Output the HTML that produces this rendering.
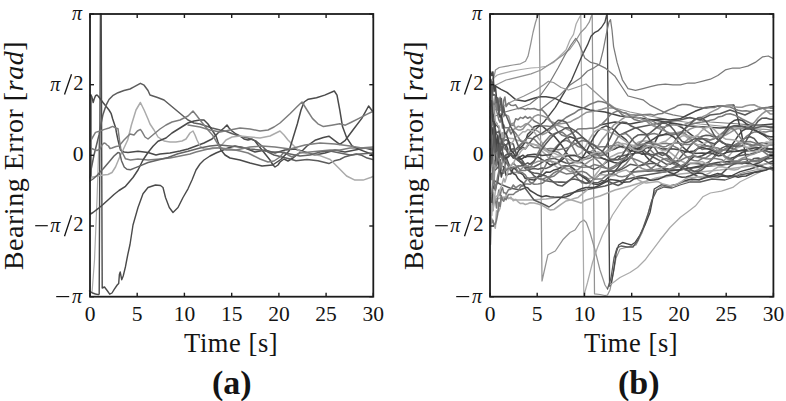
<!DOCTYPE html>
<html><head><meta charset="utf-8"><style>html,body{margin:0;padding:0;background:#fff;}svg{display:block;}</style></head>
<body><svg width="786" height="401" viewBox="0 0 786 401">
<rect width="786" height="401" fill="#fff"/>
<g fill="none" stroke-linejoin="round" stroke-linecap="round">
<polyline points="92.0,293.0 94.5,260.0 97.0,200.0 99.0,140.0" stroke="#ababab" stroke-width="1.2"/>
<polyline points="89.5,291.0 92.5,293.0 95.5,294.0 98.5,294.6 99.2,294.0 100.4,14.0" stroke="#4a4a4a" stroke-width="1.4"/>
<polyline points="101.2,14.0 102.2,288.0 104.5,287.0 107.5,291.0 109.7,294.2 112.0,293.0 114.2,289.4 117.2,285.0 118.7,283.4 119.4,274.4 120.2,272.0 121.7,279.7 123.2,276.0 125.4,267.0 127.7,255.0 130.0,244.5 133.0,225.0 138.0,207.5 143.0,193.8 148.0,187.5 155.5,185.0 160.5,185.5 163.0,187.5 165.5,197.5 169.3,207.5 173.0,212.5 178.0,207.5 183.0,197.5 188.0,188.8 192.0,180.0 196.0,170.0 200.0,164.0 204.0,160.0 210.0,156.0 216.0,153.0 222.0,150.5 228.0,148.0 235.0,146.0 245.0,148.0 255.0,152.0 265.0,150.0 275.0,153.0 285.0,150.0 295.0,149.0 305.0,152.0 315.0,155.0 325.0,153.0 335.0,150.0 345.0,152.0 355.0,150.0 365.0,148.0 373.0,150.0" stroke="#4a4a4a" stroke-width="1.4"/>
<polyline points="91.3,95.0 91.3,178.0" stroke="#7d7d7d" stroke-width="1.3"/>
<polyline points="90.5,95.0 91.7,96.5 92.5,99.5 93.2,102.5 94.0,99.5 95.5,95.7 97.0,95.0 98.5,96.5 100.7,99.5 103.0,102.5 106.0,106.2 109.0,110.0 111.2,113.7 112.7,119.0 114.2,123.4 115.7,128.0 116.4,132.4 118.0,140.0 120.5,150.0 124.0,152.0 128.0,152.5 138.0,151.3 148.0,152.5 156.0,155.0 160.0,154.0 170.0,153.0 180.0,151.0 188.0,149.0 196.0,146.0 204.0,143.0 212.0,139.0 218.0,133.0 224.0,128.0 227.0,125.0 229.0,128.0 232.0,131.0 236.0,134.0 240.0,136.0 244.0,139.0 248.0,140.0 252.0,139.0 255.0,141.0 258.0,145.0 262.0,150.0 266.0,155.0 270.0,160.0 273.0,165.0 275.0,167.0 278.0,165.0 280.0,162.0 284.0,159.0 288.0,161.0 293.0,158.0 298.0,154.0 303.0,150.0 307.0,146.0 315.0,140.3 323.4,137.5 328.9,136.2 334.4,140.3 339.8,144.4 345.3,140.3 353.5,129.3 361.8,118.4 368.6,106.0 372.7,111.5" stroke="#4a4a4a" stroke-width="1.5"/>
<polyline points="90.3,178.0 91.0,170.0 94.0,155.0 96.5,145.0 99.0,135.0 101.0,124.0 103.0,114.4 106.0,105.4 109.0,99.5 112.7,95.7 118.0,92.7 124.0,90.5 130.0,89.0 134.4,86.7 140.4,83.3 144.1,85.2 148.0,90.5 150.0,95.0 157.5,97.5 164.0,100.0 170.0,105.0 176.0,110.0 182.0,115.0 188.0,120.0 194.0,123.0 200.0,124.0 206.0,126.0 212.0,128.0 220.0,130.0 226.0,131.3 232.5,133.8 240.0,136.3 248.0,138.0 256.0,141.0 262.0,146.0 268.0,152.0 274.0,155.0 282.0,157.0 290.0,159.0 296.0,160.8 307.0,159.5 317.9,160.8 328.9,163.6 334.4,160.8 339.8,159.5 345.3,156.7 350.8,155.3 356.3,154.0 361.8,155.3 367.2,158.1 372.7,159.5" stroke="#5c5c5c" stroke-width="1.5"/>
<polyline points="90.5,177.5 103.0,175.0 108.0,174.5 112.0,172.5 115.5,167.0 120.5,155.0 123.0,150.0 127.7,140.0 131.4,125.0 136.0,110.0 140.4,102.5 144.1,110.0 148.0,119.0 150.0,124.0 154.0,130.0 158.0,137.0 164.0,141.0 170.0,142.0 176.0,142.0 182.0,141.0 186.0,139.0 190.0,133.0 193.0,131.0 195.0,135.0 197.0,140.0 200.0,146.0 204.0,149.0 210.0,149.0 216.0,148.0 220.0,147.0 226.0,140.0 232.0,137.0 240.0,136.0 250.0,137.0 260.0,138.0 270.0,136.0 276.0,133.0 280.0,131.0 284.0,135.0 288.0,140.0 292.0,144.0 296.0,148.0 300.0,151.3 308.3,154.0 319.2,155.4 330.2,159.5 338.4,167.7 346.6,176.0 354.9,180.1 363.1,180.1 371.3,177.3 373.0,176.5" stroke="#ababab" stroke-width="1.5"/>
<polyline points="90.5,141.0 95.5,132.4 100.0,131.0 104.5,129.4 109.0,128.0 112.7,126.4 115.7,128.0 118.0,128.7 118.7,134.0 119.4,140.0 121.0,150.0 125.5,158.8 130.5,160.0 138.0,159.0 148.0,160.0 160.0,159.0 170.0,158.0 180.0,156.0 190.0,154.0 196.0,152.0 204.0,150.0 212.5,148.0 220.0,148.0 230.0,149.0 240.0,151.0 248.0,153.0 254.0,156.0 260.0,159.0 268.0,162.0 274.0,161.0 280.0,157.0 284.0,152.0 288.0,155.0 292.0,157.0 300.0,153.0 310.0,152.0 320.0,151.0 330.0,150.0 340.0,150.0 350.0,148.0 360.0,148.0 373.0,147.0" stroke="#7d7d7d" stroke-width="1.5"/>
<polyline points="90.5,214.0 93.0,212.5 98.0,208.7 103.0,204.5 108.0,200.0 114.0,194.5 119.0,190.5 125.5,186.3 133.0,177.5 138.0,170.0 143.0,160.0 148.0,152.5 153.0,146.3 158.0,141.3 166.0,138.0 172.0,133.0 180.0,128.0 188.0,123.0 194.0,121.0 200.0,120.0 204.0,120.0 208.0,124.0 212.0,130.0 216.0,136.0 218.0,142.0 221.0,150.0 225.0,155.0 230.0,158.0 240.0,160.0 250.0,163.0 262.0,166.0 272.6,165.0 280.8,159.5 289.0,151.0 293.0,138.0 297.3,124.0 301.0,110.0 304.1,102.0 308.3,99.2 316.5,97.8 324.7,95.1 334.3,91.0 337.0,95.1 339.8,110.2 342.5,126.6 346.6,137.6 352.1,145.8 360.4,149.9 371.3,154.0 373.0,156.0" stroke="#4a4a4a" stroke-width="1.5"/>
<polyline points="90.0,181.0 93.0,179.0 97.0,175.5 100.0,172.0 103.0,169.0 109.0,162.0 114.0,156.0 117.9,152.6 119.7,153.0 121.5,160.7 124.2,167.0 126.9,169.3 130.5,169.7 135.0,167.9 139.5,166.1 148.0,162.5 158.0,160.0 168.0,157.5 178.0,153.8 188.0,151.3 200.0,148.0 210.0,146.0 220.0,145.0 230.0,146.0 240.0,147.0 250.0,149.0 260.0,150.0 270.0,152.0 280.0,152.0 290.0,154.0 300.0,156.0 310.0,155.0 320.0,152.0 330.0,151.0 340.0,153.0 350.0,155.0 360.0,154.0 373.0,153.0" stroke="#646464" stroke-width="1.5"/>
<polyline points="90.5,148.0 94.0,149.5 97.0,150.5 100.0,149.0 102.0,145.0 104.0,143.0 105.5,143.5 107.0,145.0 108.5,146.0 110.0,148.5 112.0,148.0 116.0,146.5 119.0,146.0 124.0,140.0 130.0,134.0 134.0,135.0 137.4,131.0 140.4,129.4 142.0,131.6 145.0,137.0 148.0,139.0 154.0,134.0 160.0,129.0 166.0,125.0 172.0,122.0 180.0,120.0 188.0,116.0 193.0,111.0 197.0,116.0 200.0,120.0 204.0,125.0 208.0,130.0 212.5,135.0 216.0,141.0 220.0,147.5 226.0,150.0 236.0,150.0 250.0,147.0 262.0,146.0 275.0,147.0 290.0,149.0 305.0,145.0 320.0,143.0 335.0,144.0 350.0,146.0 362.0,148.0 373.0,148.5" stroke="#7d7d7d" stroke-width="1.5"/>
<polyline points="188.0,125.0 200.0,127.0 210.0,130.0 220.0,132.0 230.0,130.0 240.0,128.0 250.0,129.0 260.0,131.0 268.0,130.0 274.0,127.0 280.0,123.0 290.0,113.8 297.5,106.3 302.0,102.0 307.0,110.0 312.4,118.4 317.9,123.8 323.4,126.6 331.6,125.2 339.8,123.8 345.3,125.2 350.8,122.5 359.0,118.4 367.2,114.2 372.7,111.5" stroke="#7d7d7d" stroke-width="1.5"/>
</g>
<rect x="90.0" y="14.0" width="283.3" height="282.7" fill="none" stroke="#1c1c1c" stroke-width="1.8"/>
<line x1="90.0" y1="296.7" x2="90.0" y2="292.7" stroke="#1c1c1c" stroke-width="1.4"/>
<line x1="90.0" y1="14.0" x2="90.0" y2="18.0" stroke="#1c1c1c" stroke-width="1.4"/>
<text x="90.0" y="321" text-anchor="middle" font-family="'Liberation Serif', serif" font-size="21.5" fill="#141414">0</text>
<line x1="137.2" y1="296.7" x2="137.2" y2="292.7" stroke="#1c1c1c" stroke-width="1.4"/>
<line x1="137.2" y1="14.0" x2="137.2" y2="18.0" stroke="#1c1c1c" stroke-width="1.4"/>
<text x="137.2" y="321" text-anchor="middle" font-family="'Liberation Serif', serif" font-size="21.5" fill="#141414">5</text>
<line x1="184.4" y1="296.7" x2="184.4" y2="292.7" stroke="#1c1c1c" stroke-width="1.4"/>
<line x1="184.4" y1="14.0" x2="184.4" y2="18.0" stroke="#1c1c1c" stroke-width="1.4"/>
<text x="184.4" y="321" text-anchor="middle" font-family="'Liberation Serif', serif" font-size="21.5" fill="#141414">10</text>
<line x1="231.7" y1="296.7" x2="231.7" y2="292.7" stroke="#1c1c1c" stroke-width="1.4"/>
<line x1="231.7" y1="14.0" x2="231.7" y2="18.0" stroke="#1c1c1c" stroke-width="1.4"/>
<text x="231.7" y="321" text-anchor="middle" font-family="'Liberation Serif', serif" font-size="21.5" fill="#141414">15</text>
<line x1="278.9" y1="296.7" x2="278.9" y2="292.7" stroke="#1c1c1c" stroke-width="1.4"/>
<line x1="278.9" y1="14.0" x2="278.9" y2="18.0" stroke="#1c1c1c" stroke-width="1.4"/>
<text x="278.9" y="321" text-anchor="middle" font-family="'Liberation Serif', serif" font-size="21.5" fill="#141414">20</text>
<line x1="326.1" y1="296.7" x2="326.1" y2="292.7" stroke="#1c1c1c" stroke-width="1.4"/>
<line x1="326.1" y1="14.0" x2="326.1" y2="18.0" stroke="#1c1c1c" stroke-width="1.4"/>
<text x="326.1" y="321" text-anchor="middle" font-family="'Liberation Serif', serif" font-size="21.5" fill="#141414">25</text>
<line x1="373.3" y1="296.7" x2="373.3" y2="292.7" stroke="#1c1c1c" stroke-width="1.4"/>
<line x1="373.3" y1="14.0" x2="373.3" y2="18.0" stroke="#1c1c1c" stroke-width="1.4"/>
<text x="373.3" y="321" text-anchor="middle" font-family="'Liberation Serif', serif" font-size="21.5" fill="#141414">30</text>
<line x1="90.0" y1="14.0" x2="94.0" y2="14.0" stroke="#1c1c1c" stroke-width="1.4"/>
<line x1="373.3" y1="14.0" x2="369.3" y2="14.0" stroke="#1c1c1c" stroke-width="1.4"/>
<line x1="90.0" y1="84.7" x2="94.0" y2="84.7" stroke="#1c1c1c" stroke-width="1.4"/>
<line x1="373.3" y1="84.7" x2="369.3" y2="84.7" stroke="#1c1c1c" stroke-width="1.4"/>
<line x1="90.0" y1="155.3" x2="94.0" y2="155.3" stroke="#1c1c1c" stroke-width="1.4"/>
<line x1="373.3" y1="155.3" x2="369.3" y2="155.3" stroke="#1c1c1c" stroke-width="1.4"/>
<line x1="90.0" y1="226.0" x2="94.0" y2="226.0" stroke="#1c1c1c" stroke-width="1.4"/>
<line x1="373.3" y1="226.0" x2="369.3" y2="226.0" stroke="#1c1c1c" stroke-width="1.4"/>
<line x1="90.0" y1="296.7" x2="94.0" y2="296.7" stroke="#1c1c1c" stroke-width="1.4"/>
<line x1="373.3" y1="296.7" x2="369.3" y2="296.7" stroke="#1c1c1c" stroke-width="1.4"/>
<text x="72.0" y="19.8" font-family="'Liberation Serif', serif" font-size="20" font-style="italic" fill="#141414">π</text>
<text x="50.2" y="90.6" font-family="'Liberation Serif', serif" font-size="20" font-style="italic" fill="#141414">π</text>
<line x1="64.5" y1="94.5" x2="71.5" y2="74.3" stroke="#141414" stroke-width="1.3"/>
<text x="83.4" y="89.8" text-anchor="end" font-family="'Liberation Serif', serif" font-size="20.5" fill="#141414">2</text>
<text x="83.4" y="161.0" text-anchor="end" font-family="'Liberation Serif', serif" font-size="21.5" fill="#141414">0</text>
<line x1="35.2" y1="225.7" x2="47.8" y2="225.7" stroke="#141414" stroke-width="1.2"/>
<text x="50.2" y="231.8" font-family="'Liberation Serif', serif" font-size="20" font-style="italic" fill="#141414">π</text>
<line x1="64.5" y1="236.2" x2="71.5" y2="215.2" stroke="#141414" stroke-width="1.3"/>
<text x="83.4" y="230.8" text-anchor="end" font-family="'Liberation Serif', serif" font-size="20.5" fill="#141414">2</text>
<line x1="56.2" y1="296.6" x2="69.2" y2="296.6" stroke="#141414" stroke-width="1.2"/>
<text x="71.9" y="302.8" font-family="'Liberation Serif', serif" font-size="20" font-style="italic" fill="#141414">π</text>
<text x="184.1" y="352.4" textLength="93.5" lengthAdjust="spacing" font-family="'Liberation Serif', serif" font-size="26.5" fill="#141414">Time [s]</text>
<text x="211.9" y="394.2" font-family="'Liberation Serif', serif" font-size="34" font-weight="bold" fill="#141414">(a)</text>
<text transform="translate(22.9,270.1) rotate(-90)" textLength="228.6" lengthAdjust="spacing" font-family="'Liberation Serif', serif" font-size="28" fill="#141414">Bearing Error [<tspan font-style="italic">rad</tspan>]</text>
<g fill="none" stroke-linejoin="round" stroke-linecap="round">
<polyline points="490.5,92.0 495.5,70.0 499.2,67.5 505.5,66.3 513.0,65.0 520.5,63.8 525.5,61.3 528.0,56.3 530.5,45.0 533.0,32.5 535.5,22.5 538.0,15.0 539.3,14.2 542.0,281.0 547.9,254.8 555.3,251.0 562.8,239.8 570.0,232.5 575.0,230.0 580.0,222.5 583.8,220.0 586.3,222.5 590.0,232.5 595.0,250.0 600.0,270.0 605.0,285.0 607.5,289.0" stroke="#939393" stroke-width="1.25"/>
<polyline points="491.0,80.0 497.3,75.0 501.0,73.8 511.0,71.3 521.0,69.5 531.0,68.0 538.5,67.5 546.0,66.3 553.5,62.5 561.0,55.0 566.0,50.0 570.0,40.0 573.5,34.4 576.1,24.0 578.7,18.7 580.8,15.0 583.8,296.0 587.5,282.5 592.5,262.5 597.5,247.5 602.5,235.0 607.5,225.0 612.5,215.0 617.5,207.5 622.5,200.0 630.0,192.0 637.6,186.0 645.0,182.0 655.0,178.0 665.0,176.0" stroke="#aaaaaa" stroke-width="1.25"/>
<polyline points="491.0,92.0 496.0,85.0 501.0,82.5 506.0,80.0 511.0,78.8 521.0,76.3 531.0,73.8 541.0,70.0 548.5,65.0 556.0,60.0 563.0,55.0 570.0,49.0 575.0,42.0 580.5,32.7 585.7,27.5 589.2,22.2 591.0,17.0 592.2,14.5 594.5,293.8 600.0,294.5 605.0,295.5 607.5,295.0 610.0,290.0 613.0,275.0 616.0,258.0 620.0,249.0 628.0,247.0 636.0,245.0 642.0,233.0 647.0,218.0 651.0,203.0 655.0,191.0 662.0,186.0 672.0,186.0 684.0,182.0 695.0,180.0 706.0,178.0 718.0,175.0 730.0,178.0 742.0,173.0 755.0,170.0 773.0,168.0" stroke="#939393" stroke-width="1.25"/>
<polyline points="490.5,175.0 500.0,165.0 510.0,155.0 520.0,145.0 530.0,135.0 537.0,128.0 544.0,122.0 555.3,107.3 566.6,88.6 571.7,79.8 577.0,67.6 582.2,55.4 587.5,44.9 591.0,36.2 594.4,32.7 597.9,30.9 601.4,27.5 604.9,22.2 606.6,15.2 607.2,14.2 609.6,286.0 611.2,284.0 613.7,270.0 616.2,252.5 618.7,245.0 622.5,242.5 627.5,243.8 631.3,245.0 635.0,242.5 640.0,235.0 645.0,225.0 650.0,212.5 652.5,200.0 654.2,189.0 661.7,184.5 669.2,186.0 676.6,184.5 684.1,181.0 691.6,179.0 699.1,180.0 706.6,177.0 717.8,173.4 729.0,177.0 740.2,171.6 750.0,169.0 760.0,166.0 773.0,161.0" stroke="#454545" stroke-width="1.35"/>
<polyline points="540.0,110.0 550.0,102.0 560.0,95.0 570.0,85.0 580.5,78.0 587.5,71.0 594.4,67.6 599.7,64.1 603.2,50.1 606.6,32.7 609.0,22.0 610.5,19.6 612.0,30.0 613.6,46.6 617.1,62.4 622.4,79.8 628.0,88.6 635.5,90.4 643.0,88.6 650.4,86.7 657.9,84.8 665.4,84.1 672.9,84.8 680.4,84.8 687.9,83.0 695.3,83.0 702.8,81.1 710.3,79.2 717.8,75.5 725.3,69.9 732.8,68.0 740.2,68.0 747.7,66.1 755.2,62.4 762.7,56.8 768.3,56.0 773.4,58.6" stroke="#7a7a7a" stroke-width="1.25"/>
<polyline points="490.5,80.0 493.5,85.0 501.0,89.3 507.0,92.3 516.0,99.8 525.0,101.3 534.0,98.3 540.0,96.8 546.0,96.8 555.0,98.3 564.0,102.8 575.0,106.0 590.0,110.0 605.0,112.0 620.0,116.0 640.0,118.0 660.0,121.0 690.0,126.0 720.0,128.0 750.0,126.0 773.0,124.0" stroke="#454545" stroke-width="1.5"/>
<polyline points="490.5,118.0 505.0,112.0 520.0,108.0 530.0,104.0 540.0,96.0 550.0,82.0 558.0,68.0 565.0,55.0 571.0,45.0 575.8,38.4 578.8,43.0 584.8,58.0 590.8,62.4 596.8,63.9 605.8,68.4 614.7,75.9 620.0,84.0 628.0,96.0 643.0,99.8 650.4,105.4 657.9,109.1 665.4,112.9 672.9,114.8 690.0,118.0 710.0,122.0 740.0,124.0 773.0,127.0" stroke="#7a7a7a" stroke-width="1.25"/>
<polyline points="490.5,112.0 505.0,105.0 515.0,100.0 523.5,96.3 536.0,90.0 543.5,85.0 548.5,81.3 553.5,82.5 561.0,87.5 568.5,90.0 576.0,87.5 586.0,84.0 595.0,92.0 605.0,101.0 615.0,108.0 630.0,112.0 650.0,116.0 670.0,120.0 700.0,124.0 730.0,127.0 773.0,130.0" stroke="#939393" stroke-width="1.25"/>
<polyline points="610.0,285.0 620.0,277.5 630.0,272.5 637.5,267.5 645.0,260.0 652.5,250.0 660.0,240.0 670.0,227.5 680.4,217.3 687.9,211.7 695.3,206.1 702.8,196.8 710.3,193.0 721.5,191.2 732.8,187.4 740.2,181.8 751.5,176.2 762.7,170.6 773.4,165.0" stroke="#aaaaaa" stroke-width="1.25"/>
<polyline points="607.5,289.0 611.0,278.0 614.0,258.0 617.0,248.0 621.0,246.0 627.0,247.0 633.0,247.0 638.0,240.0 643.0,228.0 648.0,214.0 652.0,200.0 657.0,190.0 664.0,187.0 672.0,188.0 680.0,185.0 690.0,182.0 700.0,182.0 712.0,179.0 725.0,180.0 740.0,175.0 755.0,172.0 773.0,168.0" stroke="#5a5a5a" stroke-width="1.3"/>
<polyline points="490.5,195.0 497.0,199.0 504.0,197.0 516.0,200.0 531.0,200.0 546.0,199.0 561.0,197.0 575.0,201.0 581.0,203.0 586.0,200.0 600.0,196.0 615.0,190.0 630.0,186.0 650.0,180.0 680.0,174.0 720.0,170.0 773.0,163.0" stroke="#aaaaaa" stroke-width="1.5"/>
<polyline points="493.0,180.0 500.0,184.0 510.0,188.0 520.0,190.0 525.0,188.0 534.0,200.0 543.0,204.0 549.0,207.0 555.0,203.0 564.0,195.0 575.0,192.0 590.0,189.0 605.0,186.0 620.0,181.0 640.0,176.0 670.0,171.0 700.0,167.0 740.0,163.0 773.0,158.0" stroke="#5a5a5a" stroke-width="1.5"/>
<polyline points="600.0,125.0 615.0,122.0 630.0,124.0 645.0,121.0 660.0,119.0 670.0,120.0 680.0,118.8 687.5,115.0 695.0,111.3 705.0,107.5 717.5,106.3 727.5,105.5 733.8,105.0 736.3,112.5 738.8,122.5 741.3,132.5 743.8,145.0 745.5,155.0 747.5,161.3 752.5,165.0 760.0,162.5 767.5,157.5 773.4,155.0" stroke="#454545" stroke-width="1.5"/>
<polyline points="620.0,135.0 635.0,128.0 650.0,125.0 665.0,122.0 680.0,120.0 690.0,117.5 700.0,120.0 710.0,115.0 720.0,113.8 730.0,110.0 737.5,112.5 745.0,115.0 752.5,111.3 760.0,108.8 767.5,107.5 773.4,106.3" stroke="#5a5a5a" stroke-width="1.5"/>
<polyline points="630.0,172.0 650.0,171.0 665.0,170.0 680.0,170.0 692.5,167.5 705.0,165.0 717.5,162.5 730.0,161.3 742.5,162.5 755.0,165.0 765.0,167.5 773.4,170.0" stroke="#454545" stroke-width="1.5"/>
<polyline points="490.5,84.6 491.7,107.9 492.9,102.9 494.1,119.1 495.3,126.4 496.5,123.0 497.7,126.8 498.9,127.4 500.1,133.3 501.3,141.5 502.5,141.2 503.7,145.0 504.9,145.4 506.1,144.8 508.5,151.3 510.9,154.9 513.3,158.1 515.7,157.1 518.1,151.5 520.5,147.8 522.9,145.3 525.3,141.7 527.7,134.3 530.1,132.0 534.1,126.8 538.1,125.4 542.1,126.0 546.1,129.4 550.1,133.1 554.1,136.0 558.1,140.8 562.1,145.9 566.1,152.4 570.1,157.5 574.1,160.9 578.1,161.1 582.1,157.9 586.1,151.9 590.1,144.0 594.1,136.8 598.1,130.9 602.1,127.6 606.1,125.9 610.1,127.9 614.1,129.9 618.1,133.9 622.1,136.7 626.1,139.9 630.1,145.1 634.1,148.5 638.1,152.0 642.1,154.3 646.1,153.9 650.1,149.3 654.1,143.9 658.1,136.2 662.1,129.4 666.1,126.2 670.1,123.6 674.1,124.3 678.1,125.5 682.1,127.7 686.1,130.7 690.1,133.8 694.1,136.8 698.1,140.4 702.1,142.7 706.1,145.8 710.1,146.4 714.1,145.3 718.1,140.9 722.1,135.0 726.1,129.0 730.1,123.3 734.1,120.6 738.1,119.5 742.1,120.4 746.1,123.7 750.1,125.8 754.1,129.0 758.1,132.0 762.1,134.2 766.1,136.9 770.1,139.5 773.4,139.5" stroke="#454545" stroke-width="1.55"/>
<polyline points="490.5,116.4 491.7,134.0 492.9,140.2 494.1,140.3 495.3,148.0 496.5,147.4 497.7,154.8 498.9,148.4 500.1,151.3 501.3,153.6 502.5,160.7 503.7,161.0 504.9,159.1 506.1,161.9 508.5,166.2 510.9,168.0 513.3,167.2 515.7,168.2 518.1,165.9 520.5,166.1 522.9,165.5 525.3,166.6 527.7,167.2 530.1,166.9 534.1,166.8 538.1,164.8 542.1,162.3 546.1,160.1 550.1,158.9 554.1,158.3 558.1,159.9 562.1,161.5 566.1,163.0 570.1,163.4 574.1,162.6 578.1,162.5 582.1,162.7 586.1,166.0 590.1,167.6 594.1,169.4 598.1,167.4 602.1,165.3 606.1,162.4 610.1,160.0 614.1,159.7 618.1,159.7 622.1,158.7 626.1,157.2 630.1,151.9 634.1,149.4 638.1,148.3 642.1,149.1 646.1,152.2 650.1,154.3 654.1,154.9 658.1,153.5 662.1,152.8 666.1,154.8 670.1,159.5 674.1,163.7 678.1,165.8 682.1,166.4 686.1,165.9 690.1,163.6 694.1,163.4 698.1,163.8 702.1,164.4 706.1,163.4 710.1,161.1 714.1,156.5 718.1,150.7 722.1,147.9 726.1,146.1 730.1,146.1 734.1,145.8 738.1,143.2 742.1,139.7 746.1,137.9 750.1,136.8 754.1,138.5 758.1,143.5 762.1,148.1 766.1,149.4 770.1,148.8 773.4,148.8" stroke="#5a5a5a" stroke-width="1.55"/>
<polyline points="490.5,110.6 491.7,115.5 492.9,125.7 494.1,127.4 495.3,129.2 496.5,134.0 497.7,135.4 498.9,140.2 500.1,144.2 501.3,142.6 502.5,147.0 503.7,147.0 504.9,149.2 506.1,149.7 508.5,153.3 510.9,151.1 513.3,151.1 515.7,149.8 518.1,149.0 520.5,145.1 522.9,142.7 525.3,139.6 527.7,138.2 530.1,138.2 534.1,138.9 538.1,143.3 542.1,146.6 546.1,149.3 550.1,151.1 554.1,150.9 558.1,152.2 562.1,155.4 566.1,159.0 570.1,166.1 574.1,173.9 578.1,179.0 582.1,182.9 586.1,183.1 590.1,182.6 594.1,179.0 598.1,175.7 602.1,172.6 606.1,171.4 610.1,169.8 614.1,167.7 618.1,165.2 622.1,162.2 626.1,157.1 630.1,151.5 634.1,147.3 638.1,144.9 642.1,144.2 646.1,145.5 650.1,149.8 654.1,153.6 658.1,156.1 662.1,157.9 666.1,160.3 670.1,162.3 674.1,164.2 678.1,166.0 682.1,168.6 686.1,170.2 690.1,170.3 694.1,171.4 698.1,169.9 702.1,167.3 706.1,164.4 710.1,161.2 714.1,157.2 718.1,153.8 722.1,150.9 726.1,148.1 730.1,145.8 734.1,144.9 738.1,143.1 742.1,143.0 746.1,144.0 750.1,144.3 754.1,146.3 758.1,148.5 762.1,150.7 766.1,153.5 770.1,156.3 773.4,156.3" stroke="#7a7a7a" stroke-width="1.55"/>
<polyline points="490.5,156.6 491.7,153.0 492.9,153.7 494.1,129.0 495.3,138.8 496.5,149.2 497.7,148.1 498.9,143.2 500.1,144.9 501.3,146.5 502.5,136.8 503.7,140.6 504.9,140.4 506.1,139.5 508.5,141.6 510.9,143.4 513.3,144.0 515.7,152.6 518.1,155.7 520.5,158.5 522.9,161.2 525.3,165.5 527.7,166.6 530.1,169.2 534.1,168.5 538.1,169.3 542.1,167.9 546.1,168.4 550.1,166.8 554.1,164.2 558.1,162.2 562.1,157.4 566.1,152.0 570.1,145.8 574.1,140.6 578.1,138.5 582.1,137.4 586.1,140.5 590.1,145.0 594.1,149.7 598.1,155.2 602.1,158.2 606.1,159.6 610.1,160.0 614.1,159.1 618.1,156.3 622.1,156.0 626.1,154.9 630.1,154.0 634.1,153.4 638.1,152.7 642.1,153.3 646.1,153.6 650.1,155.4 654.1,157.5 658.1,159.7 662.1,161.6 666.1,164.2 670.1,164.3 674.1,162.4 678.1,160.3 682.1,155.2 686.1,151.1 690.1,146.0 694.1,141.9 698.1,138.4 702.1,136.3 706.1,135.2 710.1,135.5 714.1,137.0 718.1,139.7 722.1,141.8 726.1,144.9 730.1,148.0 734.1,149.3 738.1,150.7 742.1,150.7 746.1,149.8 750.1,147.1 754.1,145.4 758.1,143.4 762.1,143.1 766.1,143.6 770.1,144.9 773.4,144.9" stroke="#5a5a5a" stroke-width="1.55"/>
<polyline points="490.5,197.0 491.7,215.5 492.9,159.8 494.1,181.1 495.3,158.0 496.5,167.7 497.7,143.8 498.9,142.0 500.1,139.0 501.3,142.5 502.5,132.9 503.7,132.5 504.9,134.4 506.1,134.4 508.5,129.9 510.9,129.9 513.3,129.6 515.7,128.2 518.1,126.3 520.5,127.1 522.9,125.9 525.3,124.1 527.7,123.6 530.1,125.7 534.1,129.3 538.1,131.4 542.1,134.7 546.1,133.0 550.1,130.0 554.1,126.6 558.1,124.1 562.1,123.4 566.1,122.9 570.1,122.1 574.1,119.7 578.1,117.8 582.1,115.1 586.1,112.6 590.1,111.8 594.1,111.3 598.1,110.3 602.1,109.2 606.1,107.9 610.1,108.1 614.1,107.7 618.1,109.9 622.1,112.1 626.1,113.7 630.1,114.4 634.1,114.7 638.1,115.2 642.1,115.3 646.1,117.8 650.1,122.2 654.1,125.1 658.1,128.1 662.1,126.9 666.1,126.6 670.1,125.3 674.1,124.8 678.1,125.5 682.1,125.7 686.1,123.8 690.1,122.3 694.1,120.8 698.1,117.7 702.1,116.9 706.1,115.3 710.1,112.6 714.1,110.6 718.1,108.7 722.1,105.9 726.1,105.6 730.1,105.0 734.1,106.8 738.1,107.3 742.1,107.3 746.1,105.8 750.1,105.0 754.1,104.8 758.1,106.7 762.1,107.9 766.1,110.4 770.1,113.9 773.4,113.9" stroke="#939393" stroke-width="1.55"/>
<polyline points="490.5,94.1 491.7,93.3 492.9,101.3 494.1,105.7 495.3,121.0 496.5,123.8 497.7,125.3 498.9,126.0 500.1,131.2 501.3,133.3 502.5,137.3 503.7,132.6 504.9,136.3 506.1,137.3 508.5,138.0 510.9,138.4 513.3,138.6 515.7,139.6 518.1,140.8 520.5,139.9 522.9,141.7 525.3,141.5 527.7,142.7 530.1,143.6 534.1,144.4 538.1,146.6 542.1,151.2 546.1,154.9 550.1,160.3 554.1,165.1 558.1,167.8 562.1,168.6 566.1,168.2 570.1,168.7 574.1,169.7 578.1,172.3 582.1,175.4 586.1,178.3 590.1,178.6 594.1,176.5 598.1,171.6 602.1,165.9 606.1,161.1 610.1,157.1 614.1,155.3 618.1,153.3 622.1,152.5 626.1,150.9 630.1,148.6 634.1,145.9 638.1,142.3 642.1,140.9 646.1,140.9 650.1,140.9 654.1,142.2 658.1,145.2 662.1,146.4 666.1,149.6 670.1,152.4 674.1,155.7 678.1,159.2 682.1,161.5 686.1,163.2 690.1,163.1 694.1,162.9 698.1,162.4 702.1,161.5 706.1,163.6 710.1,163.9 714.1,165.6 718.1,164.7 722.1,162.1 726.1,158.5 730.1,154.6 734.1,149.4 738.1,147.4 742.1,145.9 746.1,147.0 750.1,147.5 754.1,146.7 758.1,145.4 762.1,143.8 766.1,142.1 770.1,142.2 773.4,142.2" stroke="#aaaaaa" stroke-width="1.55"/>
<polyline points="490.5,214.8 491.7,207.2 492.9,210.6 494.1,198.3 495.3,198.9 496.5,207.9 497.7,196.7 498.9,190.0 500.1,195.8 501.3,190.0 502.5,187.6 503.7,192.8 504.9,192.8 506.1,194.1 508.5,189.7 510.9,189.2 513.3,185.0 515.7,187.8 518.1,186.1 520.5,184.7 522.9,186.1 525.3,184.0 527.7,183.9 530.1,184.3 534.1,181.6 538.1,176.6 542.1,171.8 546.1,164.4 550.1,156.6 554.1,149.1 558.1,144.7 562.1,141.5 566.1,140.2 570.1,142.2 574.1,143.1 578.1,146.6 582.1,148.1 586.1,150.5 590.1,154.0 594.1,157.5 598.1,161.0 602.1,165.0 606.1,168.1 610.1,170.4 614.1,170.7 618.1,169.9 622.1,167.4 626.1,163.7 630.1,158.6 634.1,153.7 638.1,150.0 642.1,147.3 646.1,146.4 650.1,145.5 654.1,144.8 658.1,144.1 662.1,143.4 666.1,143.2 670.1,143.9 674.1,146.4 678.1,148.5 682.1,152.7 686.1,156.1 690.1,159.3 694.1,160.6 698.1,160.9 702.1,158.6 706.1,157.7 710.1,154.8 714.1,152.4 718.1,151.2 722.1,150.6 726.1,149.0 730.1,148.5 734.1,146.4 738.1,144.8 742.1,143.3 746.1,141.7 750.1,141.4 754.1,142.7 758.1,144.1 762.1,147.4 766.1,150.7 770.1,152.7 773.4,152.7" stroke="#7a7a7a" stroke-width="1.55"/>
<polyline points="490.5,139.4 491.7,145.6 492.9,127.6 494.1,141.8 495.3,157.2 496.5,164.7 497.7,155.4 498.9,168.4 500.1,159.5 501.3,166.9 502.5,166.2 503.7,166.9 504.9,169.4 506.1,175.6 508.5,174.1 510.9,173.9 513.3,168.1 515.7,169.2 518.1,172.7 520.5,173.1 522.9,174.7 525.3,178.5 527.7,177.9 530.1,179.5 534.1,180.1 538.1,176.8 542.1,175.7 546.1,172.1 550.1,172.2 554.1,169.9 558.1,169.1 562.1,166.3 566.1,165.8 570.1,166.0 574.1,169.1 578.1,173.3 582.1,176.5 586.1,179.2 590.1,182.9 594.1,184.0 598.1,184.4 602.1,182.8 606.1,179.6 610.1,175.8 614.1,172.2 618.1,167.4 622.1,162.2 626.1,157.0 630.1,151.8 634.1,148.6 638.1,148.2 642.1,150.8 646.1,156.5 650.1,160.6 654.1,162.9 658.1,165.5 662.1,167.3 666.1,170.3 670.1,172.8 674.1,173.7 678.1,171.6 682.1,167.7 686.1,163.6 690.1,159.7 694.1,156.3 698.1,156.7 702.1,155.7 706.1,153.8 710.1,151.2 714.1,150.5 718.1,151.9 722.1,154.2 726.1,157.2 730.1,158.6 734.1,157.3 738.1,155.0 742.1,152.5 746.1,151.0 750.1,150.8 754.1,150.3 758.1,149.2 762.1,149.2 766.1,147.6 770.1,149.5 773.4,149.5" stroke="#454545" stroke-width="1.55"/>
<polyline points="490.5,79.4 491.7,87.3 492.9,105.0 494.1,111.9 495.3,97.1 496.5,110.9 497.7,114.9 498.9,120.2 500.1,122.4 501.3,115.8 502.5,128.1 503.7,124.8 504.9,127.7 506.1,127.8 508.5,127.8 510.9,134.0 513.3,130.5 515.7,133.2 518.1,136.7 520.5,141.2 522.9,141.6 525.3,142.6 527.7,143.3 530.1,144.8 534.1,147.6 538.1,147.7 542.1,148.3 546.1,148.9 550.1,148.4 554.1,148.7 558.1,149.8 562.1,149.0 566.1,148.3 570.1,146.7 574.1,144.4 578.1,142.5 582.1,140.5 586.1,141.2 590.1,142.4 594.1,145.0 598.1,146.9 602.1,146.8 606.1,146.8 610.1,145.9 614.1,145.5 618.1,144.9 622.1,147.4 626.1,147.5 630.1,147.8 634.1,147.9 638.1,144.7 642.1,141.2 646.1,136.6 650.1,134.2 654.1,133.4 658.1,134.6 662.1,134.8 666.1,134.8 670.1,134.0 674.1,133.1 678.1,132.4 682.1,132.1 686.1,134.4 690.1,138.1 694.1,143.4 698.1,146.2 702.1,149.5 706.1,148.7 710.1,148.4 714.1,147.4 718.1,148.1 722.1,149.7 726.1,149.9 730.1,150.9 734.1,149.3 738.1,145.3 742.1,141.1 746.1,136.7 750.1,133.8 754.1,132.1 758.1,131.9 762.1,131.7 766.1,131.9 770.1,131.1 773.4,131.1" stroke="#7a7a7a" stroke-width="1.55"/>
<polyline points="490.5,200.7 491.7,207.9 492.9,192.5 494.1,201.8 495.3,191.4 496.5,185.0 497.7,181.2 498.9,174.6 500.1,168.3 501.3,169.9 502.5,163.5 503.7,160.1 504.9,158.6 506.1,155.2 508.5,151.9 510.9,143.7 513.3,141.1 515.7,136.4 518.1,136.4 520.5,134.0 522.9,131.8 525.3,131.8 527.7,129.6 530.1,130.2 534.1,131.8 538.1,137.7 542.1,142.8 546.1,149.8 550.1,154.8 554.1,157.4 558.1,156.8 562.1,156.1 566.1,154.7 570.1,154.7 574.1,155.7 578.1,155.2 582.1,152.1 586.1,145.6 590.1,138.2 594.1,132.0 598.1,129.4 602.1,128.8 606.1,130.2 610.1,132.6 614.1,133.7 618.1,136.2 622.1,138.9 626.1,141.6 630.1,144.7 634.1,145.5 638.1,146.4 642.1,144.5 646.1,143.1 650.1,142.6 654.1,142.9 658.1,143.9 662.1,142.3 666.1,140.9 670.1,137.5 674.1,134.2 678.1,132.5 682.1,133.1 686.1,136.6 690.1,140.4 694.1,142.9 698.1,144.9 702.1,143.9 706.1,142.8 710.1,140.1 714.1,138.3 718.1,136.3 722.1,135.3 726.1,133.1 730.1,129.6 734.1,128.0 738.1,127.7 742.1,127.9 746.1,127.9 750.1,128.0 754.1,128.8 758.1,129.4 762.1,131.9 766.1,135.2 770.1,140.6 773.4,140.6" stroke="#aaaaaa" stroke-width="1.55"/>
<polyline points="490.5,148.8 491.7,160.8 492.9,136.0 494.1,150.1 495.3,141.6 496.5,145.7 497.7,152.7 498.9,144.7 500.1,154.0 501.3,141.8 502.5,150.3 503.7,143.5 504.9,144.7 506.1,145.5 508.5,142.0 510.9,150.0 513.3,148.6 515.7,151.9 518.1,159.5 520.5,161.8 522.9,162.6 525.3,167.1 527.7,167.4 530.1,171.3 534.1,176.0 538.1,178.3 542.1,179.6 546.1,180.7 550.1,181.5 554.1,181.9 558.1,182.1 562.1,182.1 566.1,182.3 570.1,179.8 574.1,176.4 578.1,174.3 582.1,175.4 586.1,177.4 590.1,181.3 594.1,182.7 598.1,182.7 602.1,180.4 606.1,181.2 610.1,182.1 614.1,184.0 618.1,185.5 622.1,183.5 626.1,178.8 630.1,173.8 634.1,169.6 638.1,166.9 642.1,164.7 646.1,162.8 650.1,159.9 654.1,155.0 658.1,152.8 662.1,152.4 666.1,154.3 670.1,157.2 674.1,161.6 678.1,164.2 682.1,167.0 686.1,169.6 690.1,172.2 694.1,174.5 698.1,176.7 702.1,177.0 706.1,177.3 710.1,177.1 714.1,175.9 718.1,174.9 722.1,173.4 726.1,169.6 730.1,166.1 734.1,164.1 738.1,163.3 742.1,163.8 746.1,162.3 750.1,161.4 754.1,158.4 758.1,158.0 762.1,159.3 766.1,161.3 770.1,163.6 773.4,163.6" stroke="#5a5a5a" stroke-width="1.55"/>
<polyline points="490.5,174.7 491.7,179.5 492.9,167.6 494.1,160.0 495.3,164.6 496.5,164.4 497.7,149.4 498.9,149.7 500.1,146.0 501.3,145.3 502.5,145.3 503.7,141.5 504.9,133.0 506.1,133.1 508.5,128.8 510.9,124.8 513.3,125.4 515.7,118.8 518.1,119.8 520.5,117.4 522.9,118.4 525.3,116.4 527.7,118.3 530.1,117.0 534.1,121.0 538.1,123.1 542.1,125.8 546.1,126.1 550.1,126.5 554.1,125.4 558.1,123.2 562.1,120.7 566.1,117.5 570.1,115.3 574.1,113.3 578.1,110.3 582.1,108.8 586.1,106.5 590.1,104.2 594.1,102.8 598.1,101.3 602.1,101.8 606.1,103.0 610.1,105.7 614.1,108.3 618.1,110.7 622.1,114.7 626.1,116.6 630.1,116.3 634.1,116.3 638.1,114.9 642.1,114.7 646.1,114.4 650.1,114.3 654.1,115.2 658.1,114.1 662.1,113.5 666.1,111.3 670.1,109.4 674.1,107.8 678.1,105.4 682.1,104.5 686.1,104.5 690.1,105.0 694.1,106.5 698.1,107.2 702.1,107.8 706.1,108.3 710.1,107.5 714.1,107.6 718.1,105.8 722.1,105.9 726.1,106.7 730.1,107.0 734.1,108.9 738.1,110.3 742.1,110.9 746.1,110.8 750.1,111.4 754.1,110.4 758.1,109.3 762.1,108.2 766.1,107.4 770.1,108.1 773.4,108.1" stroke="#7a7a7a" stroke-width="1.55"/>
<polyline points="490.5,212.7 491.7,206.3 492.9,185.5 494.1,188.0 495.3,189.2 496.5,184.2 497.7,181.5 498.9,172.6 500.1,167.4 501.3,177.0 502.5,172.1 503.7,168.8 504.9,168.9 506.1,157.6 508.5,156.7 510.9,153.8 513.3,157.0 515.7,155.1 518.1,157.7 520.5,156.7 522.9,155.2 525.3,157.2 527.7,156.2 530.1,156.4 534.1,156.7 538.1,157.2 542.1,159.6 546.1,161.7 550.1,165.0 554.1,164.3 558.1,162.9 562.1,159.9 566.1,156.1 570.1,155.7 574.1,155.2 578.1,156.5 582.1,157.9 586.1,157.2 590.1,154.9 594.1,153.8 598.1,152.5 602.1,153.3 606.1,152.3 610.1,150.6 614.1,149.2 618.1,147.2 622.1,146.2 626.1,148.1 630.1,150.5 634.1,151.3 638.1,152.0 642.1,150.9 646.1,147.9 650.1,146.8 654.1,146.7 658.1,147.7 662.1,149.0 666.1,149.1 670.1,148.7 674.1,149.0 678.1,149.8 682.1,150.4 686.1,151.9 690.1,151.6 694.1,151.0 698.1,148.5 702.1,147.6 706.1,148.6 710.1,149.5 714.1,151.0 718.1,153.0 722.1,154.4 726.1,152.6 730.1,151.8 734.1,151.6 738.1,151.2 742.1,150.1 746.1,150.0 750.1,148.9 754.1,148.0 758.1,147.8 762.1,148.0 766.1,148.2 770.1,149.0 773.4,149.0" stroke="#454545" stroke-width="1.55"/>
<polyline points="490.5,90.1 491.7,103.6 492.9,104.8 494.1,113.6 495.3,98.7 496.5,101.0 497.7,108.9 498.9,104.2 500.1,110.6 501.3,109.1 502.5,114.5 503.7,116.6 504.9,113.8 506.1,115.0 508.5,116.1 510.9,124.3 513.3,123.1 515.7,128.6 518.1,129.9 520.5,129.9 522.9,129.0 525.3,125.7 527.7,123.8 530.1,121.2 534.1,116.4 538.1,114.7 542.1,115.7 546.1,117.4 550.1,121.2 554.1,122.8 558.1,125.6 562.1,126.9 566.1,128.8 570.1,130.6 574.1,135.1 578.1,141.8 582.1,147.4 586.1,151.3 590.1,151.9 594.1,149.6 598.1,145.9 602.1,139.5 606.1,134.7 610.1,129.4 614.1,124.7 618.1,122.4 622.1,119.0 626.1,116.7 630.1,116.2 634.1,116.8 638.1,117.4 642.1,119.3 646.1,120.9 650.1,124.4 654.1,126.2 658.1,128.2 662.1,129.7 666.1,131.4 670.1,133.1 674.1,133.3 678.1,134.8 682.1,133.5 686.1,131.7 690.1,128.9 694.1,127.6 698.1,126.7 702.1,127.6 706.1,130.7 710.1,133.6 714.1,136.0 718.1,137.7 722.1,136.6 726.1,134.7 730.1,132.6 734.1,130.0 738.1,128.5 742.1,128.7 746.1,127.2 750.1,125.2 754.1,122.7 758.1,117.7 762.1,113.9 766.1,111.0 770.1,110.7 773.4,110.7" stroke="#939393" stroke-width="1.55"/>
<polyline points="490.5,71.4 491.7,75.4 492.9,71.9 494.1,91.4 495.3,85.6 496.5,97.9 497.7,98.2 498.9,113.6 500.1,117.3 501.3,114.6 502.5,121.6 503.7,127.7 504.9,133.6 506.1,133.5 508.5,140.5 510.9,150.6 513.3,152.6 515.7,157.2 518.1,158.2 520.5,159.5 522.9,158.2 525.3,156.6 527.7,155.0 530.1,154.7 534.1,154.2 538.1,154.4 542.1,155.5 546.1,155.0 550.1,155.0 554.1,150.9 558.1,145.9 562.1,141.3 566.1,138.0 570.1,136.7 574.1,138.3 578.1,142.5 582.1,146.5 586.1,150.9 590.1,154.4 594.1,157.0 598.1,157.8 602.1,158.1 606.1,159.8 610.1,161.0 614.1,162.5 618.1,163.2 622.1,162.5 626.1,160.3 630.1,156.7 634.1,153.3 638.1,148.7 642.1,146.0 646.1,142.9 650.1,141.2 654.1,138.7 658.1,136.0 662.1,135.2 666.1,133.7 670.1,135.0 674.1,137.2 678.1,141.7 682.1,146.4 686.1,150.0 690.1,152.5 694.1,153.5 698.1,153.2 702.1,153.1 706.1,153.2 710.1,152.8 714.1,154.1 718.1,155.9 722.1,155.3 726.1,152.3 730.1,147.5 734.1,141.9 738.1,135.9 742.1,130.9 746.1,128.7 750.1,128.9 754.1,130.1 758.1,131.8 762.1,133.7 766.1,135.8 770.1,136.7 773.4,136.7" stroke="#454545" stroke-width="1.55"/>
<polyline points="490.5,104.0 491.7,107.8 492.9,121.0 494.1,124.9 495.3,134.0 496.5,132.2 497.7,132.2 498.9,131.1 500.1,138.8 501.3,138.8 502.5,144.5 503.7,145.3 504.9,144.6 506.1,149.1 508.5,154.7 510.9,154.1 513.3,157.1 515.7,158.6 518.1,160.7 520.5,162.3 522.9,165.6 525.3,168.5 527.7,170.0 530.1,171.9 534.1,173.0 538.1,173.6 542.1,174.9 546.1,176.0 550.1,179.3 554.1,182.6 558.1,185.3 562.1,186.0 566.1,183.1 570.1,179.8 574.1,179.1 578.1,180.1 582.1,181.3 586.1,183.5 590.1,182.5 594.1,179.2 598.1,175.8 602.1,171.7 606.1,171.2 610.1,171.2 614.1,171.5 618.1,170.8 622.1,169.1 626.1,166.9 630.1,164.3 634.1,164.9 638.1,165.7 642.1,165.2 646.1,164.2 650.1,163.6 654.1,163.2 658.1,164.5 662.1,167.5 666.1,168.6 670.1,169.3 674.1,167.2 678.1,165.7 682.1,166.2 686.1,166.4 690.1,169.1 694.1,171.4 698.1,171.5 702.1,169.7 706.1,165.9 710.1,163.9 714.1,163.8 718.1,164.5 722.1,164.9 726.1,164.1 730.1,162.1 734.1,158.4 738.1,155.9 742.1,155.2 746.1,154.6 750.1,154.3 754.1,152.9 758.1,152.3 762.1,150.6 766.1,150.9 770.1,151.9 773.4,151.9" stroke="#5a5a5a" stroke-width="1.55"/>
<polyline points="490.5,85.7 491.7,105.0 492.9,103.2 494.1,104.5 495.3,103.0 496.5,102.1 497.7,110.2 498.9,103.2 500.1,97.3 501.3,104.1 502.5,111.8 503.7,100.5 504.9,97.1 506.1,106.6 508.5,103.1 510.9,105.3 513.3,105.4 515.7,104.8 518.1,108.7 520.5,108.2 522.9,108.5 525.3,109.4 527.7,108.5 530.1,108.9 534.1,108.4 538.1,109.9 542.1,109.8 546.1,114.1 550.1,120.2 554.1,125.9 558.1,131.9 562.1,135.3 566.1,136.5 570.1,134.3 574.1,132.0 578.1,128.9 582.1,128.7 586.1,128.8 590.1,128.3 594.1,128.2 598.1,126.5 602.1,123.9 606.1,119.9 610.1,115.0 614.1,112.4 618.1,110.7 622.1,112.4 626.1,112.9 630.1,116.4 634.1,119.4 638.1,120.5 642.1,121.5 646.1,120.9 650.1,120.3 654.1,121.8 658.1,124.3 662.1,127.3 666.1,131.8 670.1,134.1 674.1,134.6 678.1,133.5 682.1,131.4 686.1,127.9 690.1,124.8 694.1,123.6 698.1,122.5 702.1,122.1 706.1,121.5 710.1,120.2 714.1,119.6 718.1,117.1 722.1,116.2 726.1,114.3 730.1,113.8 734.1,114.9 738.1,116.7 742.1,119.0 746.1,121.0 750.1,123.0 754.1,124.7 758.1,125.0 762.1,125.9 766.1,126.4 770.1,126.5 773.4,126.5" stroke="#7a7a7a" stroke-width="1.55"/>
<polyline points="490.5,100.6 491.7,81.5 492.9,95.3 494.1,94.8 495.3,95.3 496.5,102.5 497.7,98.1 498.9,113.0 500.1,105.1 501.3,98.6 502.5,114.3 503.7,106.5 504.9,115.1 506.1,115.5 508.5,121.3 510.9,127.1 513.3,131.3 515.7,139.4 518.1,145.4 520.5,149.1 522.9,147.2 525.3,149.0 527.7,145.9 530.1,142.3 534.1,137.3 538.1,135.1 542.1,133.1 546.1,130.3 550.1,128.0 554.1,124.0 558.1,120.3 562.1,120.5 566.1,122.2 570.1,128.3 574.1,135.9 578.1,142.5 582.1,147.7 586.1,151.1 590.1,152.1 594.1,153.8 598.1,154.6 602.1,152.0 606.1,146.3 610.1,138.3 614.1,130.1 618.1,125.1 622.1,122.1 626.1,122.4 630.1,125.5 634.1,127.3 638.1,128.8 642.1,131.7 646.1,134.2 650.1,140.5 654.1,146.8 658.1,153.0 662.1,155.4 666.1,154.3 670.1,149.0 674.1,142.4 678.1,136.5 682.1,132.2 686.1,127.1 690.1,124.1 694.1,119.9 698.1,118.1 702.1,118.0 706.1,121.4 710.1,127.6 714.1,135.0 718.1,139.7 722.1,142.7 726.1,144.0 730.1,144.8 734.1,146.3 738.1,146.1 742.1,145.8 746.1,140.9 750.1,134.2 754.1,126.9 758.1,121.0 762.1,118.2 766.1,117.9 770.1,119.3 773.4,119.3" stroke="#5a5a5a" stroke-width="1.55"/>
<polyline points="490.5,129.8 491.7,135.6 492.9,166.4 494.1,144.0 495.3,147.9 496.5,150.9 497.7,154.9 498.9,158.9 500.1,164.1 501.3,162.2 502.5,162.9 503.7,159.7 504.9,164.9 506.1,170.2 508.5,167.3 510.9,171.3 513.3,172.2 515.7,172.4 518.1,172.2 520.5,169.6 522.9,167.4 525.3,165.9 527.7,166.0 530.1,163.8 534.1,163.1 538.1,161.2 542.1,161.1 546.1,161.2 550.1,160.9 554.1,162.1 558.1,163.1 562.1,166.6 566.1,169.2 570.1,171.7 574.1,170.9 578.1,169.6 582.1,165.9 586.1,163.5 590.1,160.6 594.1,158.5 598.1,157.4 602.1,155.2 606.1,151.5 610.1,147.8 614.1,144.0 618.1,142.1 622.1,144.3 626.1,148.5 630.1,154.3 634.1,161.0 638.1,166.0 642.1,168.5 646.1,169.7 650.1,169.6 654.1,169.7 658.1,168.8 662.1,167.5 666.1,166.3 670.1,163.0 674.1,158.8 678.1,152.4 682.1,146.3 686.1,140.9 690.1,138.0 694.1,137.2 698.1,136.3 702.1,138.7 706.1,139.5 710.1,143.3 714.1,146.7 718.1,151.1 722.1,154.6 726.1,158.4 730.1,160.4 734.1,161.1 738.1,160.4 742.1,158.3 746.1,156.7 750.1,155.0 754.1,154.0 758.1,152.1 762.1,150.9 766.1,147.2 770.1,144.7 773.4,144.7" stroke="#939393" stroke-width="1.55"/>
<polyline points="490.5,244.4 491.7,218.7 492.9,220.6 494.1,224.8 495.3,228.3 496.5,210.7 497.7,212.1 498.9,210.9 500.1,208.0 501.3,198.8 502.5,199.4 503.7,198.8 504.9,198.0 506.1,195.7 508.5,198.7 510.9,197.1 513.3,200.8 515.7,199.4 518.1,201.8 520.5,203.6 522.9,203.3 525.3,204.5 527.7,203.7 530.1,202.8 534.1,203.0 538.1,204.0 542.1,205.3 546.1,207.7 550.1,209.9 554.1,209.4 558.1,206.5 562.1,203.7 566.1,200.9 570.1,199.9 574.1,198.6 578.1,197.4 582.1,194.2 586.1,190.8 590.1,184.7 594.1,179.2 598.1,175.2 602.1,174.4 606.1,175.2 610.1,176.1 614.1,175.6 618.1,172.4 622.1,170.9 626.1,169.9 630.1,172.5 634.1,175.8 638.1,179.7 642.1,182.0 646.1,182.9 650.1,182.4 654.1,181.9 658.1,181.6 662.1,183.7 666.1,184.7 670.1,185.7 674.1,185.3 678.1,183.4 682.1,181.2 686.1,178.4 690.1,177.3 694.1,177.6 698.1,176.7 702.1,177.0 706.1,174.6 710.1,172.7 714.1,169.3 718.1,166.9 722.1,166.8 726.1,167.8 730.1,169.6 734.1,170.1 738.1,169.2 742.1,166.7 746.1,165.8 750.1,164.6 754.1,166.2 758.1,168.9 762.1,169.4 766.1,169.7 770.1,168.8 773.4,168.8" stroke="#aaaaaa" stroke-width="1.55"/>
<polyline points="490.5,214.8 491.7,222.9 492.9,220.4 494.1,224.7 495.3,224.3 496.5,220.2 497.7,214.0 498.9,202.2 500.1,206.3 501.3,195.6 502.5,199.7 503.7,201.3 504.9,198.4 506.1,199.7 508.5,194.4 510.9,194.4 513.3,194.5 515.7,192.3 518.1,191.1 520.5,186.9 522.9,185.1 525.3,181.5 527.7,178.5 530.1,178.0 534.1,177.5 538.1,178.5 542.1,179.3 546.1,177.6 550.1,176.2 554.1,172.7 558.1,170.8 562.1,172.2 566.1,173.9 570.1,173.5 574.1,173.1 578.1,172.3 582.1,171.2 586.1,172.7 590.1,176.2 594.1,179.2 598.1,178.9 602.1,178.9 606.1,175.8 610.1,173.9 614.1,173.9 618.1,176.2 622.1,176.7 626.1,175.9 630.1,174.5 634.1,171.8 638.1,171.2 642.1,171.2 646.1,171.2 650.1,169.1 654.1,166.5 658.1,163.4 662.1,159.7 666.1,158.4 670.1,159.9 674.1,160.8 678.1,161.9 682.1,159.5 686.1,157.4 690.1,156.5 694.1,155.7 698.1,157.2 702.1,158.0 706.1,158.7 710.1,158.9 714.1,158.3 718.1,158.9 722.1,159.8 726.1,163.0 730.1,163.4 734.1,162.6 738.1,161.7 742.1,159.6 746.1,158.9 750.1,159.5 754.1,160.8 758.1,160.2 762.1,158.2 766.1,156.8 770.1,154.3 773.4,154.3" stroke="#7a7a7a" stroke-width="1.55"/>
<polyline points="490.5,106.3 491.7,100.7 492.9,121.4 494.1,121.9 495.3,129.3 496.5,150.6 497.7,135.8 498.9,147.2 500.1,155.7 501.3,155.6 502.5,152.1 503.7,156.3 504.9,157.8 506.1,157.2 508.5,163.2 510.9,170.1 513.3,173.5 515.7,174.7 518.1,178.8 520.5,181.0 522.9,182.6 525.3,187.3 527.7,187.7 530.1,190.5 534.1,192.8 538.1,195.3 542.1,196.7 546.1,195.8 550.1,196.7 554.1,197.0 558.1,197.2 562.1,197.5 566.1,196.8 570.1,195.2 574.1,192.4 578.1,190.0 582.1,188.6 586.1,187.5 590.1,187.4 594.1,187.5 598.1,186.1 602.1,183.9 606.1,181.7 610.1,179.6 614.1,179.9 618.1,180.5 622.1,182.6 626.1,181.9 630.1,181.7 634.1,178.9 638.1,177.9 642.1,177.7 646.1,178.2 650.1,180.3 654.1,180.1 658.1,179.2 662.1,177.6 666.1,175.6 670.1,174.9 674.1,174.8 678.1,176.2 682.1,177.3 686.1,177.0 690.1,175.8 694.1,174.3 698.1,172.9 702.1,173.4 706.1,175.4 710.1,176.2 714.1,176.7 718.1,176.9 722.1,176.1 726.1,176.3 730.1,175.7 734.1,175.9 738.1,177.2 742.1,176.3 746.1,176.0 750.1,174.3 754.1,172.6 758.1,171.9 762.1,171.0 766.1,170.0 770.1,168.1 773.4,168.1" stroke="#454545" stroke-width="1.55"/>
<polyline points="490.5,170.9 491.7,160.7 492.9,147.0 494.1,141.6 495.3,151.2 496.5,152.3 497.7,154.8 498.9,160.1 500.1,155.0 501.3,157.5 502.5,156.1 503.7,161.5 504.9,161.2 506.1,160.1 508.5,166.3 510.9,166.0 513.3,162.8 515.7,165.7 518.1,167.5 520.5,170.3 522.9,170.6 525.3,170.5 527.7,169.3 530.1,167.7 534.1,161.4 538.1,152.7 542.1,145.1 546.1,140.2 550.1,135.8 554.1,133.8 558.1,132.2 562.1,132.1 566.1,135.3 570.1,142.0 574.1,149.6 578.1,157.2 582.1,159.9 586.1,159.0 590.1,157.9 594.1,154.9 598.1,155.0 602.1,155.2 606.1,154.4 610.1,149.8 614.1,144.0 618.1,136.9 622.1,134.3 626.1,133.6 630.1,137.2 634.1,142.1 638.1,145.4 642.1,144.8 646.1,143.8 650.1,143.1 654.1,144.1 658.1,145.1 662.1,146.7 666.1,146.4 670.1,144.3 674.1,143.0 678.1,142.7 682.1,144.1 686.1,144.5 690.1,144.6 694.1,142.0 698.1,140.0 702.1,138.7 706.1,138.8 710.1,140.0 714.1,138.9 718.1,136.6 722.1,133.0 726.1,129.9 730.1,127.7 734.1,129.6 738.1,134.9 742.1,139.9 746.1,143.3 750.1,145.3 754.1,144.9 758.1,144.6 762.1,145.2 766.1,145.4 770.1,144.2 773.4,144.2" stroke="#7a7a7a" stroke-width="1.55"/>
<polyline points="490.5,223.2 491.7,203.6 492.9,210.6 494.1,203.2 495.3,197.6 496.5,196.1 497.7,196.4 498.9,193.6 500.1,189.2 501.3,186.3 502.5,182.4 503.7,178.4 504.9,182.0 506.1,178.2 508.5,169.3 510.9,165.0 513.3,163.9 515.7,157.9 518.1,155.8 520.5,151.8 522.9,148.9 525.3,148.9 527.7,144.6 530.1,144.0 534.1,144.5 538.1,145.3 542.1,148.7 546.1,151.1 550.1,152.8 554.1,153.1 558.1,155.1 562.1,155.6 566.1,158.4 570.1,160.1 574.1,161.8 578.1,162.9 582.1,160.5 586.1,158.3 590.1,155.1 594.1,153.1 598.1,151.9 602.1,153.3 606.1,152.0 610.1,150.8 614.1,147.9 618.1,144.2 622.1,143.4 626.1,144.0 630.1,147.1 634.1,150.0 638.1,151.1 642.1,150.0 646.1,147.0 650.1,145.6 654.1,146.2 658.1,148.1 662.1,150.4 666.1,150.7 670.1,146.9 674.1,142.4 678.1,139.0 682.1,135.9 686.1,135.5 690.1,136.2 694.1,137.0 698.1,134.8 702.1,130.3 706.1,127.7 710.1,127.0 714.1,129.4 718.1,133.7 722.1,136.9 726.1,139.3 730.1,139.6 734.1,140.1 738.1,141.2 742.1,143.2 746.1,147.4 750.1,151.4 754.1,151.5 758.1,150.4 762.1,147.8 766.1,145.5 770.1,143.8 773.4,143.8" stroke="#aaaaaa" stroke-width="1.55"/>
<polyline points="490.5,106.8 491.7,163.4 492.9,149.3 494.1,128.8 495.3,152.1 496.5,151.1 497.7,144.2 498.9,157.4 500.1,144.4 501.3,148.9 502.5,151.8 503.7,159.9 504.9,155.9 506.1,154.7 508.5,154.6 510.9,155.4 513.3,155.6 515.7,158.7 518.1,159.3 520.5,162.6 522.9,163.7 525.3,164.2 527.7,162.9 530.1,164.2 534.1,160.9 538.1,155.5 542.1,148.9 546.1,143.5 550.1,138.8 554.1,134.7 558.1,132.1 562.1,130.1 566.1,127.7 570.1,128.0 574.1,130.1 578.1,133.0 582.1,136.8 586.1,140.2 590.1,143.5 594.1,145.3 598.1,148.7 602.1,151.1 606.1,155.5 610.1,159.1 614.1,159.8 618.1,159.4 622.1,155.5 626.1,148.9 630.1,142.4 634.1,137.6 638.1,135.0 642.1,134.5 646.1,135.0 650.1,132.9 654.1,129.6 658.1,126.3 662.1,122.9 666.1,123.6 670.1,125.7 674.1,130.2 678.1,136.8 682.1,141.4 686.1,142.7 690.1,141.4 694.1,138.9 698.1,138.4 702.1,138.2 706.1,140.8 710.1,142.6 714.1,143.8 718.1,141.5 722.1,137.1 726.1,131.7 730.1,127.1 734.1,125.7 738.1,125.7 742.1,126.2 746.1,127.9 750.1,127.7 754.1,128.3 758.1,127.2 762.1,126.4 766.1,126.4 770.1,127.6 773.4,127.6" stroke="#5a5a5a" stroke-width="1.55"/>
<polyline points="490.5,193.6 491.7,193.5 492.9,184.2 494.1,180.2 495.3,190.4 496.5,183.4 497.7,176.5 498.9,171.2 500.1,160.9 501.3,169.3 502.5,171.2 503.7,173.3 504.9,168.7 506.1,170.8 508.5,168.2 510.9,169.0 513.3,167.2 515.7,167.3 518.1,171.9 520.5,171.9 522.9,173.0 525.3,174.8 527.7,178.8 530.1,182.2 534.1,184.3 538.1,184.0 542.1,183.3 546.1,180.4 550.1,177.3 554.1,175.9 558.1,172.7 562.1,169.2 566.1,166.3 570.1,165.7 574.1,165.3 578.1,166.4 582.1,167.3 586.1,167.1 590.1,166.7 594.1,164.6 598.1,165.4 602.1,167.3 606.1,168.2 610.1,168.2 614.1,166.1 618.1,163.3 622.1,160.0 626.1,157.8 630.1,157.7 634.1,159.1 638.1,160.5 642.1,162.4 646.1,164.6 650.1,167.6 654.1,170.4 658.1,171.6 662.1,172.3 666.1,171.7 670.1,169.3 674.1,167.9 678.1,166.7 682.1,165.3 686.1,163.1 690.1,158.1 694.1,153.0 698.1,147.8 702.1,145.8 706.1,146.0 710.1,147.1 714.1,150.2 718.1,151.9 722.1,154.0 726.1,157.0 730.1,159.2 734.1,161.4 738.1,162.7 742.1,162.5 746.1,161.6 750.1,161.5 754.1,161.4 758.1,162.0 762.1,159.8 766.1,157.2 770.1,155.2 773.4,155.2" stroke="#7a7a7a" stroke-width="1.55"/>
</g>
<rect x="490.0" y="14.0" width="283.4" height="282.7" fill="none" stroke="#1c1c1c" stroke-width="1.8"/>
<line x1="490.0" y1="296.7" x2="490.0" y2="292.7" stroke="#1c1c1c" stroke-width="1.4"/>
<line x1="490.0" y1="14.0" x2="490.0" y2="18.0" stroke="#1c1c1c" stroke-width="1.4"/>
<text x="490.0" y="321" text-anchor="middle" font-family="'Liberation Serif', serif" font-size="21.5" fill="#141414">0</text>
<line x1="537.2" y1="296.7" x2="537.2" y2="292.7" stroke="#1c1c1c" stroke-width="1.4"/>
<line x1="537.2" y1="14.0" x2="537.2" y2="18.0" stroke="#1c1c1c" stroke-width="1.4"/>
<text x="537.2" y="321" text-anchor="middle" font-family="'Liberation Serif', serif" font-size="21.5" fill="#141414">5</text>
<line x1="584.5" y1="296.7" x2="584.5" y2="292.7" stroke="#1c1c1c" stroke-width="1.4"/>
<line x1="584.5" y1="14.0" x2="584.5" y2="18.0" stroke="#1c1c1c" stroke-width="1.4"/>
<text x="584.5" y="321" text-anchor="middle" font-family="'Liberation Serif', serif" font-size="21.5" fill="#141414">10</text>
<line x1="631.7" y1="296.7" x2="631.7" y2="292.7" stroke="#1c1c1c" stroke-width="1.4"/>
<line x1="631.7" y1="14.0" x2="631.7" y2="18.0" stroke="#1c1c1c" stroke-width="1.4"/>
<text x="631.7" y="321" text-anchor="middle" font-family="'Liberation Serif', serif" font-size="21.5" fill="#141414">15</text>
<line x1="678.9" y1="296.7" x2="678.9" y2="292.7" stroke="#1c1c1c" stroke-width="1.4"/>
<line x1="678.9" y1="14.0" x2="678.9" y2="18.0" stroke="#1c1c1c" stroke-width="1.4"/>
<text x="678.9" y="321" text-anchor="middle" font-family="'Liberation Serif', serif" font-size="21.5" fill="#141414">20</text>
<line x1="726.2" y1="296.7" x2="726.2" y2="292.7" stroke="#1c1c1c" stroke-width="1.4"/>
<line x1="726.2" y1="14.0" x2="726.2" y2="18.0" stroke="#1c1c1c" stroke-width="1.4"/>
<text x="726.2" y="321" text-anchor="middle" font-family="'Liberation Serif', serif" font-size="21.5" fill="#141414">25</text>
<line x1="773.4" y1="296.7" x2="773.4" y2="292.7" stroke="#1c1c1c" stroke-width="1.4"/>
<line x1="773.4" y1="14.0" x2="773.4" y2="18.0" stroke="#1c1c1c" stroke-width="1.4"/>
<text x="773.4" y="321" text-anchor="middle" font-family="'Liberation Serif', serif" font-size="21.5" fill="#141414">30</text>
<line x1="490.0" y1="14.0" x2="494.0" y2="14.0" stroke="#1c1c1c" stroke-width="1.4"/>
<line x1="773.4" y1="14.0" x2="769.4" y2="14.0" stroke="#1c1c1c" stroke-width="1.4"/>
<line x1="490.0" y1="84.7" x2="494.0" y2="84.7" stroke="#1c1c1c" stroke-width="1.4"/>
<line x1="773.4" y1="84.7" x2="769.4" y2="84.7" stroke="#1c1c1c" stroke-width="1.4"/>
<line x1="490.0" y1="155.3" x2="494.0" y2="155.3" stroke="#1c1c1c" stroke-width="1.4"/>
<line x1="773.4" y1="155.3" x2="769.4" y2="155.3" stroke="#1c1c1c" stroke-width="1.4"/>
<line x1="490.0" y1="226.0" x2="494.0" y2="226.0" stroke="#1c1c1c" stroke-width="1.4"/>
<line x1="773.4" y1="226.0" x2="769.4" y2="226.0" stroke="#1c1c1c" stroke-width="1.4"/>
<line x1="490.0" y1="296.7" x2="494.0" y2="296.7" stroke="#1c1c1c" stroke-width="1.4"/>
<line x1="773.4" y1="296.7" x2="769.4" y2="296.7" stroke="#1c1c1c" stroke-width="1.4"/>
<text x="472.0" y="19.8" font-family="'Liberation Serif', serif" font-size="20" font-style="italic" fill="#141414">π</text>
<text x="450.2" y="90.6" font-family="'Liberation Serif', serif" font-size="20" font-style="italic" fill="#141414">π</text>
<line x1="464.5" y1="94.5" x2="471.5" y2="74.3" stroke="#141414" stroke-width="1.3"/>
<text x="483.4" y="89.8" text-anchor="end" font-family="'Liberation Serif', serif" font-size="20.5" fill="#141414">2</text>
<text x="483.4" y="161.0" text-anchor="end" font-family="'Liberation Serif', serif" font-size="21.5" fill="#141414">0</text>
<line x1="435.2" y1="225.7" x2="447.8" y2="225.7" stroke="#141414" stroke-width="1.2"/>
<text x="450.2" y="231.8" font-family="'Liberation Serif', serif" font-size="20" font-style="italic" fill="#141414">π</text>
<line x1="464.5" y1="236.2" x2="471.5" y2="215.2" stroke="#141414" stroke-width="1.3"/>
<text x="483.4" y="230.8" text-anchor="end" font-family="'Liberation Serif', serif" font-size="20.5" fill="#141414">2</text>
<line x1="456.2" y1="296.6" x2="469.2" y2="296.6" stroke="#141414" stroke-width="1.2"/>
<text x="471.9" y="302.8" font-family="'Liberation Serif', serif" font-size="20" font-style="italic" fill="#141414">π</text>
<text x="584.1" y="352.4" textLength="93.5" lengthAdjust="spacing" font-family="'Liberation Serif', serif" font-size="26.5" fill="#141414">Time [s]</text>
<text x="618.0" y="394.2" font-family="'Liberation Serif', serif" font-size="34" font-weight="bold" fill="#141414">(b)</text>
<text transform="translate(422.9,270.1) rotate(-90)" textLength="228.6" lengthAdjust="spacing" font-family="'Liberation Serif', serif" font-size="28" fill="#141414">Bearing Error [<tspan font-style="italic">rad</tspan>]</text>
</svg></body></html>
